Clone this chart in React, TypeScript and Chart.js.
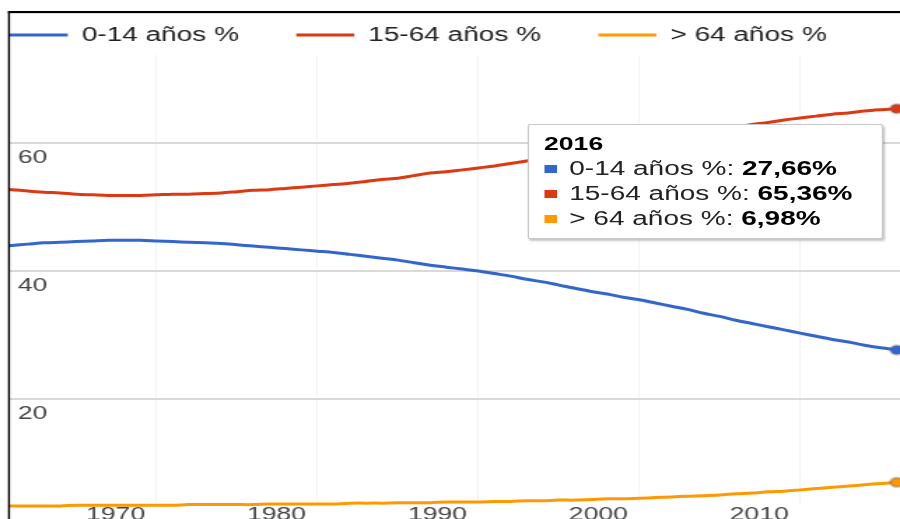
import React, { useEffect, useRef } from 'react';
import { Chart, registerables } from 'chart.js';

Chart.register(...registerables);

const years = [
  1960, 1961, 1962, 1963, 1964, 1965, 1966, 1967, 1968, 1969,
  1970, 1971, 1972, 1973, 1974, 1975, 1976, 1977, 1978, 1979,
  1980, 1981, 1982, 1983, 1984, 1985, 1986, 1987, 1988, 1989,
  1990, 1991, 1992, 1993, 1994, 1995, 1996, 1997, 1998, 1999,
  2000, 2001, 2002, 2003, 2004, 2005, 2006, 2007, 2008, 2009,
  2010, 2011, 2012, 2013, 2014, 2015, 2016,
];

const ages0to14 = [
  43.8, 44.0, 44.2, 44.4, 44.5, 44.6, 44.7, 44.8, 44.8, 44.8,
  44.7, 44.6, 44.5, 44.4, 44.3, 44.1, 43.9, 43.7, 43.5, 43.3,
  43.1, 42.9, 42.6, 42.3, 42.0, 41.7, 41.3, 40.9, 40.6, 40.3,
  40.0, 39.6, 39.2, 38.7, 38.3, 37.8, 37.3, 36.8, 36.4, 35.9,
  35.5, 35.0, 34.5, 34.0, 33.4, 32.9, 32.3, 31.8, 31.3, 30.8,
  30.3, 29.8, 29.3, 28.9, 28.4, 28.0, 27.66,
];

const ages15to64 = [
  52.9, 52.7, 52.5, 52.3, 52.2, 52.0, 51.9, 51.8, 51.8, 51.8,
  51.9, 52.0, 52.0, 52.1, 52.2, 52.4, 52.6, 52.7, 52.9, 53.1,
  53.3, 53.5, 53.7, 54.0, 54.3, 54.5, 54.9, 55.3, 55.5, 55.8,
  56.1, 56.4, 56.8, 57.2, 57.6, 58.0, 58.5, 58.9, 59.2, 59.7,
  60.0, 60.4, 60.8, 61.2, 61.7, 62.1, 62.5, 62.9, 63.2, 63.6,
  63.9, 64.2, 64.5, 64.7, 65.0, 65.2, 65.36,
];

const ages65plus = [
  3.3, 3.3, 3.3, 3.3, 3.3, 3.4, 3.4, 3.4, 3.4, 3.4,
  3.4, 3.4, 3.5, 3.5, 3.5, 3.5, 3.5, 3.6, 3.6, 3.6,
  3.6, 3.6, 3.7, 3.7, 3.7, 3.8, 3.8, 3.8, 3.9, 3.9,
  3.9, 4.0, 4.0, 4.1, 4.1, 4.2, 4.2, 4.3, 4.4, 4.4,
  4.5, 4.6, 4.7, 4.8, 4.9, 5.0, 5.2, 5.3, 5.5, 5.6,
  5.8, 6.0, 6.2, 6.4, 6.6, 6.8, 6.98,
];

const seriesLabels = ['0-14 años %', '15-64 años %', '> 64 años %'];
const seriesColors = ['#3366cc', '#dc3912', '#ff9900'];
const xTickYears = [1970, 1980, 1990, 2000, 2010];
const yTickValues = [20, 40, 60];

const FONT = "'Liberation Sans', Arial, sans-serif";
const CANVAS_W = 643;
const CANVAS_H = 526;
const STRETCH = 900 / CANVAS_W;

function fmt(v: number): string {
  return v.toFixed(2).replace('.', ',') + '%';
}

export default function App() {
  const canvasRef = useRef<HTMLCanvasElement>(null);
  const tipRef = useRef<HTMLDivElement>(null);

  useEffect(() => {
    const canvas = canvasRef.current;
    if (!canvas) return;
    const seriesValues = [ages0to14, ages15to64, ages65plus];
    const lastIndex = years.length - 1;

    const datasets = seriesValues.map((vals, i) => ({
      label: seriesLabels[i],
      data: years.map((yr, j) => ({ x: yr, y: vals[j] })),
      borderColor: seriesColors[i],
      backgroundColor: seriesColors[i],
      borderWidth: 3,
      pointRadius: (c: any) => (c.dataIndex === lastIndex ? 4.5 : 0),
      pointHoverRadius: 0,
      pointBackgroundColor: seriesColors[i],
      pointBorderColor: 'rgba(110,110,110,0.35)',
      pointBorderWidth: 2.5,
      tension: 0.3,
      clip: { left: 0, top: 0, right: 10, bottom: 30 },
    }));

    const external = (context: any) => {
      const el = tipRef.current;
      const { chart, tooltip } = context;
      if (!el) return;
      if (!tooltip || tooltip.opacity === 0 || !tooltip.dataPoints || !tooltip.dataPoints.length) {
        el.style.display = 'none';
        return;
      }
      const idx = tooltip.dataPoints[0].dataIndex;
      while (el.firstChild) el.removeChild(el.firstChild);
      const title = document.createElement('div');
      title.textContent = String(years[idx]);
      title.style.fontWeight = 'bold';
      title.style.fontSize = '19px';
      title.style.lineHeight = '25px';
      title.style.color = '#000';
      el.appendChild(title);
      tooltip.dataPoints.forEach((dp: any) => {
        const row = document.createElement('div');
        row.style.fontSize = '20px';
        row.style.lineHeight = '25px';
        row.style.color = '#222';
        row.style.whiteSpace = 'nowrap';
        const sq = document.createElement('span');
        sq.style.display = 'inline-block';
        sq.style.width = '9px';
        sq.style.height = '8px';
        sq.style.marginRight = '9px';
        sq.style.verticalAlign = 'middle';
        sq.style.position = 'relative';
        sq.style.top = '-1px';
        sq.style.background = seriesColors[dp.datasetIndex];
        row.appendChild(sq);
        const lab = document.createElement('span');
        lab.textContent = dp.dataset.label + ': ';
        row.appendChild(lab);
        const val = document.createElement('span');
        val.textContent = fmt(dp.parsed.y);
        val.style.fontWeight = 'bold';
        val.style.color = '#000';
        row.appendChild(val);
        el.appendChild(row);
      });
      const px = chart.scales.x.getPixelForValue(years[idx]);
      el.style.left = px - 264 + 'px';
      el.style.top = chart.chartArea.top + 69 + 'px';
      el.style.display = 'block';
    };

    const legendHeightPlugin = {
      id: 'legendHeight',
      beforeLayout(chart: any) {
        const lg = chart.legend;
        if (lg && !lg.__patched) {
          const orig = lg.fit.bind(lg);
          lg.fit = () => {
            orig();
            lg.height = 71;
          };
          lg.__patched = true;
        }
      },
    };

    // screenshot frame (black top and left edges) drawn on the canvas
    const framePlugin = {
      id: 'frame',
      afterDraw(chart: any) {
        const ctx = chart.ctx;
        const fx = 8 / STRETCH;
        ctx.save();
        ctx.fillStyle = '#d3dbe9';
        ctx.fillRect(fx, 13, chart.width, 1);
        ctx.fillStyle = '#000';
        ctx.fillRect(fx, 11, chart.width, 2);
        ctx.fillRect(fx, 11, 2 / STRETCH, chart.height);
        ctx.restore();
      },
    };

    const chart = new Chart(canvas, {
      type: 'line',
      data: { datasets } as any,
      options: {
        responsive: false,
        animation: false,
        devicePixelRatio: 1,
        layout: { autoPadding: false, padding: { left: -34, top: -16, right: 0, bottom: 0 } },
        font: { family: FONT } as any,
        scales: {
          x: {
            type: 'linear',
            min: 1960.858,
            max: 2016.2,
            afterBuildTicks: (s: any) => {
              s.ticks = xTickYears.map((v) => ({ value: v }));
            },
            afterFit: (s: any) => {
              s.height = 23;
            },
            ticks: {
              autoSkip: false,
              maxRotation: 0,
              padding: 0,
              labelOffset: -29.3,
              color: '#444',
              font: { family: FONT, size: 19 },
              callback: (v: any) => String(v),
            },
            grid: { color: '#f3f3f3', lineWidth: 1, drawTicks: false },
            border: { display: false },
          },
          y: {
            type: 'linear',
            min: 3.75,
            max: 73.75,
            afterBuildTicks: (s: any) => {
              s.ticks = yTickValues.map((v) => ({ value: v }));
            },
            afterFit: (s: any) => {
              s.width = 40.8;
            },
            ticks: {
              mirror: true,
              padding: 6,
              labelOffset: 15,
              color: '#444',
              font: { family: FONT, size: 19 },
              callback: (v: any) => String(v),
            },
            grid: { color: '#d9d9d9', lineWidth: 2, drawTicks: false },
            border: { display: false },
          },
        },
        plugins: {
          legend: {
            position: 'top',
            align: 'start',
            labels: {
              boxWidth: 41.4,
              boxHeight: 3,
              padding: 41,
              color: '#222',
              font: { family: FONT, size: 20 },
              generateLabels: (c: any) =>
                c.data.datasets.map((ds: any, i: number) => ({
                  text: ds.label,
                  fillStyle: ds.borderColor,
                  strokeStyle: ds.borderColor,
                  lineWidth: 0,
                  hidden: false,
                  datasetIndex: i,
                  fontColor: '#222',
                })),
            },
          },
          tooltip: {
            enabled: false,
            mode: 'index',
            intersect: false,
            external,
          },
        },
      } as any,
      plugins: [legendHeightPlugin, framePlugin],
    });

    chart.tooltip?.setActiveElements(
      seriesValues.map((_, d) => ({ datasetIndex: d, index: lastIndex })),
      { x: 0, y: 0 }
    );

    return () => {
      chart.destroy();
    };
  }, []);

  return (
    <div
      style={{
        position: 'fixed',
        left: 0,
        top: 0,
        width: 900,
        height: 519,
        overflow: 'hidden',
        background: '#fff',
      }}
    >
      <div
        style={{
          position: 'absolute',
          left: 0,
          top: 0,
          width: CANVAS_W,
          height: CANVAS_H,
          transform: `scaleX(${STRETCH})`,
          transformOrigin: '0 0',
        }}
      >
        <canvas
          ref={canvasRef}
          width={CANVAS_W}
          height={CANVAS_H}
          style={{ display: 'block', width: CANVAS_W, height: CANVAS_H }}
        />
        <div
          ref={tipRef}
          style={{
            position: 'absolute',
            display: 'none',
            boxSizing: 'border-box',
            width: 254,
            height: 115,
            padding: '6px 0 0 11px',
            background: '#fff',
            border: '1px solid #c8c8c8',
            borderRadius: 2,
            boxShadow: '1px 2px 2px rgba(0,0,0,0.22)',
            fontFamily: FONT,
          }}
        />
      </div>
    </div>
  );
}
